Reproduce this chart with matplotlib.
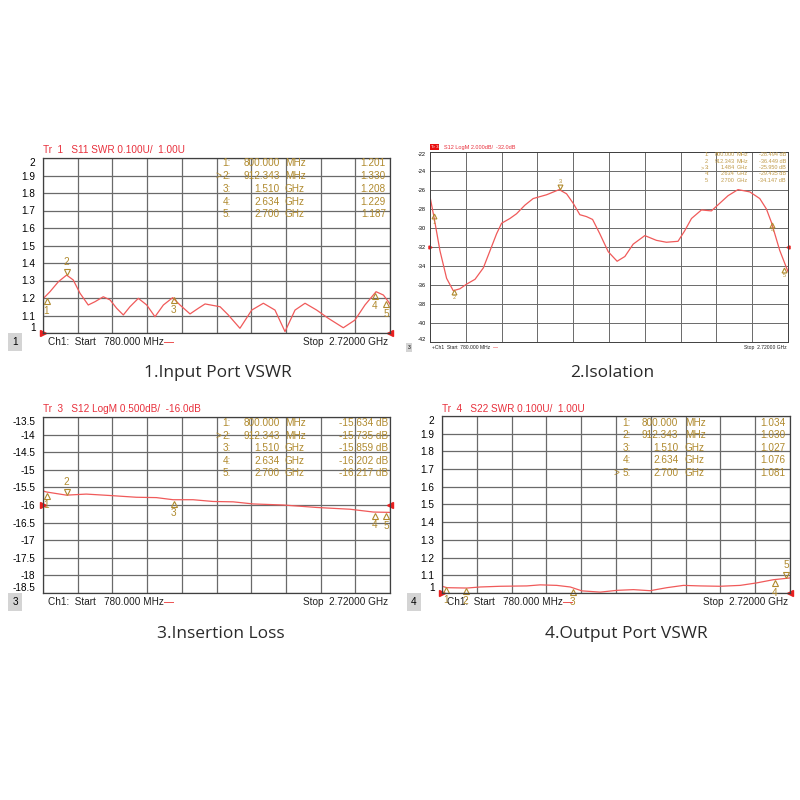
import numpy as np
import matplotlib
matplotlib.use("Agg")
import matplotlib.pyplot as plt
from matplotlib.transforms import offset_copy

# frequency span of all four analyzer screenshots (MHz)
f_start = 780.0
f_stop = 2720.0

# 1. input port VSWR (S11)
s11_freq = [780, 819, 866, 912, 949, 987, 1033, 1071, 1117, 1155, 1192, 1229, 1266, 1313,
            1360, 1406, 1453, 1505, 1546, 1602, 1648, 1686, 1770, 1816, 1881, 1947, 2012,
            2077, 2133, 2189, 2245, 2310, 2375, 2459, 2524, 2580, 2642, 2683, 2711, 2720]
s11_swr = [1.195, 1.236, 1.293, 1.331, 1.303, 1.227, 1.160, 1.179, 1.207, 1.189, 1.141,
           1.103, 1.150, 1.198, 1.160, 1.093, 1.160, 1.202, 1.160, 1.109, 1.141, 1.166,
           1.150, 1.103, 1.027, 1.131, 1.170, 1.131, 1.008, 1.131, 1.170, 1.131, 1.084,
           1.030, 1.074, 1.160, 1.236, 1.217, 1.179, 1.165]

# 2. isolation (S12 LogM)
iso_freq = [780, 803, 834, 870, 906, 942, 979, 1024, 1069, 1105, 1141, 1168, 1213, 1249,
            1294, 1339, 1412, 1480, 1520, 1556, 1592, 1628, 1661, 1700, 1746, 1794, 1836,
            1881, 1944, 2007, 2061, 2124, 2160, 2197, 2251, 2305, 2350, 2395, 2449, 2513,
            2567, 2603, 2630, 2675, 2720]
iso_db = [-26.7, -29.0, -32.4, -35.3, -36.6, -36.4, -35.9, -35.4, -34.2, -32.4, -30.6,
          -29.5, -29.0, -28.5, -27.6, -26.9, -26.5, -25.96, -26.4, -27.4, -28.6, -28.8,
          -29.1, -30.6, -32.5, -33.5, -33.0, -31.7, -30.8, -31.3, -31.5, -31.4, -30.3,
          -29.0, -28.1, -28.2, -27.4, -26.6, -25.96, -26.2, -26.9, -28.0, -29.4, -32.35,
          -34.6]

# 3. insertion loss (S12 LogM)
il_freq = [780, 799, 911, 1022, 1153, 1302, 1414, 1507, 1619, 1731, 1843, 1955, 2123,
           2310, 2496, 2627, 2720]
il_db = [-15.60, -15.63, -15.72, -15.69, -15.73, -15.78, -15.79, -15.85, -15.85, -15.90,
         -15.91, -15.97, -16.00, -16.07, -16.12, -16.20, -16.21]

# 4. output port VSWR (S22)
s22_freq = [780, 808, 919, 993, 1105, 1253, 1328, 1420, 1495, 1560, 1662, 1755, 1847,
            1940, 2033, 2126, 2219, 2330, 2442, 2534, 2627, 2720]
s22_swr = [1.038, 1.030, 1.028, 1.034, 1.038, 1.040, 1.046, 1.043, 1.034, 1.012, 1.005,
           1.015, 1.019, 1.013, 1.030, 1.043, 1.040, 1.038, 1.043, 1.057, 1.075, 1.085]

# marker tables
marker_freq = [800.000, 912.343, 1510.0, 2634.0, 2700.0]
marker_freq_txt = ["800.000", "912.343", "1.510", "2.634", "2.700"]
marker_unit = ["MHz", "MHz", "GHz", "GHz", "GHz"]
iso_marker_freq = [800.000, 912.343, 1484.0, 2634.0, 2700.0]
iso_marker_freq_txt = ["800.000", "912.343", "1.484", "2.634", "2.700"]

s11_marker_val = [1.201, 1.330, 1.208, 1.229, 1.187]
iso_marker_val = [-28.494, -36.449, -25.950, -29.435, -34.147]
il_marker_val = [-15.634, -15.735, -15.859, -16.202, -16.217]
s22_marker_val = [1.034, 1.030, 1.027, 1.076, 1.081]

s11_marker_txt = ["1.201", "1.330", "1.208", "1.229", "1.187"]
iso_marker_txt = ["-28.494 dB", "-36.449 dB", "-25.950 dB", "-29.435 dB", "-34.147 dB"]
il_marker_txt = ["-15.634 dB", "-15.735 dB", "-15.859 dB", "-16.202 dB", "-16.217 dB"]
s22_marker_txt = ["1.034", "1.030", "1.027", "1.076", "1.081"]

swr_ticks = [2, 1.9, 1.8, 1.7, 1.6, 1.5, 1.4, 1.3, 1.2, 1.1, 1]
iso_ticks = [-22, -24, -26, -28, -30, -32, -34, -36, -38, -40, -42]
il_ticks = [-13.5, -14, -14.5, -15, -15.5, -16, -16.5, -17, -17.5, -18, -18.5]

RED_TITLE = "#e8303c"
TRACE = "#f05a5a"
GOLD = "#b08a2e"
GRID = "#6a6a6a"
FONT = ["Liberation Sans", "DejaVu Sans"]

plt.rcParams["font.family"] = FONT

fig = plt.figure(figsize=(8, 8), dpi=100)


def px(x, y):
    # pixel position on the 800x800 canvas -> figure fraction
    return x / 800.0, 1 - y / 800.0


def make_panel(box, ticks, freq, vals, ref, fs, lw):
    left, top, right, bottom = box
    ax = fig.add_axes([left / 800, 1 - bottom / 800, (right - left) / 800, (bottom - top) / 800])
    ax.set_xlim(f_start, f_stop)
    ax.set_ylim(min(ticks), max(ticks))
    ax.set_xticks(np.linspace(f_start, f_stop, 11))
    ax.set_xticklabels([])
    ax.set_yticks(ticks)
    ax.set_yticklabels([("%g" % t) for t in ticks], fontsize=fs)
    labs = ax.get_yticklabels()
    for lab, t in zip(labs, ticks):
        if t == max(ticks):
            lab.set_va("top")
        elif t == min(ticks):
            lab.set_va("bottom")
    ax.tick_params(length=0, pad=fs * 0.75)
    ax.grid(True, color=GRID, linewidth=lw)
    for sp in ax.spines.values():
        sp.set_color("#404040")
        sp.set_linewidth(lw)
    ax.plot(freq, vals, color=TRACE, linewidth=0.9)
    # reference level arrows on both edges
    ax.plot([f_start], [ref], marker=">", color="#e82020", markersize=fs * 0.55, clip_on=False)
    ax.plot([f_stop], [ref], marker="<", color="#e82020", markersize=fs * 0.55, clip_on=False)
    return ax


def draw_markers(ax, mfreq, mvals, active, fs, ms):
    for i, (f, v) in enumerate(zip(mfreq, mvals)):
        if i == active:
            tr = offset_copy(ax.transData, fig=fig, x=0, y=ms * 0.5, units="points")
            ax.plot([f], [v], marker="v", markersize=ms, markerfacecolor="none",
                    markeredgecolor=GOLD, markeredgewidth=0.8, transform=tr, clip_on=False)
            ax.annotate(str(i + 1), (f, v), xytext=(0, ms * 1.2), textcoords="offset points",
                        ha="center", va="bottom", fontsize=fs, color=GOLD, annotation_clip=False)
        else:
            tr = offset_copy(ax.transData, fig=fig, x=0, y=-ms * 0.5, units="points")
            ax.plot([f], [v], marker="^", markersize=ms, markerfacecolor="none",
                    markeredgecolor=GOLD, markeredgewidth=0.8, transform=tr, clip_on=False)
            ax.annotate(str(i + 1), (f, v), xytext=(0, -ms * 1.2), textcoords="offset points",
                        ha="center", va="top", fontsize=fs, color=GOLD, annotation_clip=False)


def draw_table(ax, cols, rows_y, ftxt, units, vtxt, active, fs, color):
    c_arrow, c_num, c_freq, c_unit, c_val = cols
    for i in range(5):
        y = rows_y[i]
        if i == active:
            ax.text(c_arrow, y, ">", transform=ax.transAxes, fontsize=fs, color=color,
                    ha="left", va="center")
        ax.text(c_num, y, "%d:" % (i + 1), transform=ax.transAxes, fontsize=fs, color=color,
                ha="left", va="center")
        ax.text(c_freq, y, ftxt[i], transform=ax.transAxes, fontsize=fs, color=color,
                ha="right", va="center")
        ax.text(c_unit, y, units[i], transform=ax.transAxes, fontsize=fs, color=color,
                ha="left", va="center")
        ax.text(c_val, y, vtxt[i], transform=ax.transAxes, fontsize=fs, color=color,
                ha="right", va="center")


def footer(box_x, x0, x1, y, num, fs, dash_x, start_txt="Ch1:  Start   780.000 MHz"):
    fig.text(*px(box_x, y), num, fontsize=fs, ha="center", va="center",
             bbox=dict(boxstyle="square,pad=0.4", facecolor="#d4d4d4", edgecolor="none"))
    fig.text(*px(x0, y), start_txt, fontsize=fs, ha="left", va="center", color="#202020")
    fig.text(*px(dash_x, y), "\u2014", fontsize=fs, ha="left", va="center", color="#e82020")
    fig.text(*px(x1, y), "Stop  2.72000 GHz", fontsize=fs, ha="right", va="center",
             color="#202020")


# ---- panel 1 : input VSWR
fs = 7.2
ax1 = make_panel((43, 158, 390, 333), swr_ticks, s11_freq, s11_swr, 1.0, fs, 0.9)
fig.text(*px(43, 150), "Tr  1   S11 SWR 0.100U/  1.00U", fontsize=fs, color=RED_TITLE,
         ha="left", va="center")
rows = [1 - (163.5 + 12.7 * i - 158) / 175 for i in range(5)]
draw_table(ax1, (0.496, 0.518, 0.683, 0.697, 0.988), rows, marker_freq_txt, marker_unit,
           s11_marker_txt, 1, fs, GOLD)
draw_markers(ax1, marker_freq, s11_marker_val, 1, fs, 5)
footer(15, 48, 388, 342, "1", fs, 164)

# ---- panel 2 : isolation (smaller screenshot)
fs2 = 4.0
ax2 = make_panel((430, 152, 788, 342), iso_ticks, iso_freq, iso_db, -32.0, fs2, 0.7)
fig.text(*px(431, 147), "Tr 3", fontsize=fs2 * 0.8, color="white", ha="left", va="center",
         bbox=dict(boxstyle="square,pad=0.2", facecolor="#e81010", edgecolor="none"))
fig.text(*px(444, 147), "S12 LogM 2.000dB/  -32.0dB", fontsize=fs2, color=RED_TITLE,
         ha="left", va="center")
rows2 = [1 - (155 + 6.3 * i - 152) / 190 for i in range(5)]
draw_table(ax2, (0.756, 0.768, 0.852, 0.857, 0.994), rows2, iso_marker_freq_txt, marker_unit,
           iso_marker_txt, 2, fs2, "#c09a48")
draw_markers(ax2, iso_marker_freq, iso_marker_val, 2, fs2, 3.5)
footer(409, 432, 787, 347.5, "3", fs2 * 0.9, 493, start_txt="+Ch1  Start  780.000 MHz")

# ---- panel 3 : insertion loss
ax3 = make_panel((43, 417, 390, 593), il_ticks, il_freq, il_db, -16.0, fs, 0.9)
fig.text(*px(43, 409), "Tr  3   S12 LogM 0.500dB/  -16.0dB", fontsize=fs, color=RED_TITLE,
         ha="left", va="center")
rows3 = [1 - (423 + 12.6 * i - 417) / 176 for i in range(5)]
draw_table(ax3, (0.496, 0.518, 0.683, 0.697, 0.994), rows3, marker_freq_txt, marker_unit,
           il_marker_txt, 1, fs, GOLD)
draw_markers(ax3, marker_freq, il_marker_val, 1, fs, 5)
footer(15, 48, 388, 602, "3", fs, 164)

# ---- panel 4 : output VSWR
ax4 = make_panel((442, 416, 790, 593), swr_ticks, s22_freq, s22_swr, 1.0, fs, 0.9)
fig.text(*px(442, 409), "Tr  4   S22 SWR 0.100U/  1.00U", fontsize=fs, color=RED_TITLE,
         ha="left", va="center")
rows4 = [1 - (422.7 + 12.5 * i - 416) / 177 for i in range(5)]
draw_table(ax4, (0.494, 0.519, 0.679, 0.698, 0.986), rows4, marker_freq_txt, marker_unit,
           s22_marker_txt, 4, fs, GOLD)
footer(414, 447, 788, 602, "4", fs, 563)
draw_markers(ax4, marker_freq, s22_marker_val, 4, fs, 5)

# captions under each screenshot
cap = dict(fontsize=12.5, ha="center", va="center", color="#2a2a2a",
           family=["Open Sans", "DejaVu Sans"])
fig.text(*px(218, 373), "1.Input Port VSWR", **cap)
fig.text(*px(612, 373), "2.Isolation", **cap)
fig.text(*px(221, 634), "3.Insertion Loss", **cap)
fig.text(*px(626, 634), "4.Output Port VSWR", **cap)

fig.savefig("out.png", dpi=100, facecolor="white")
